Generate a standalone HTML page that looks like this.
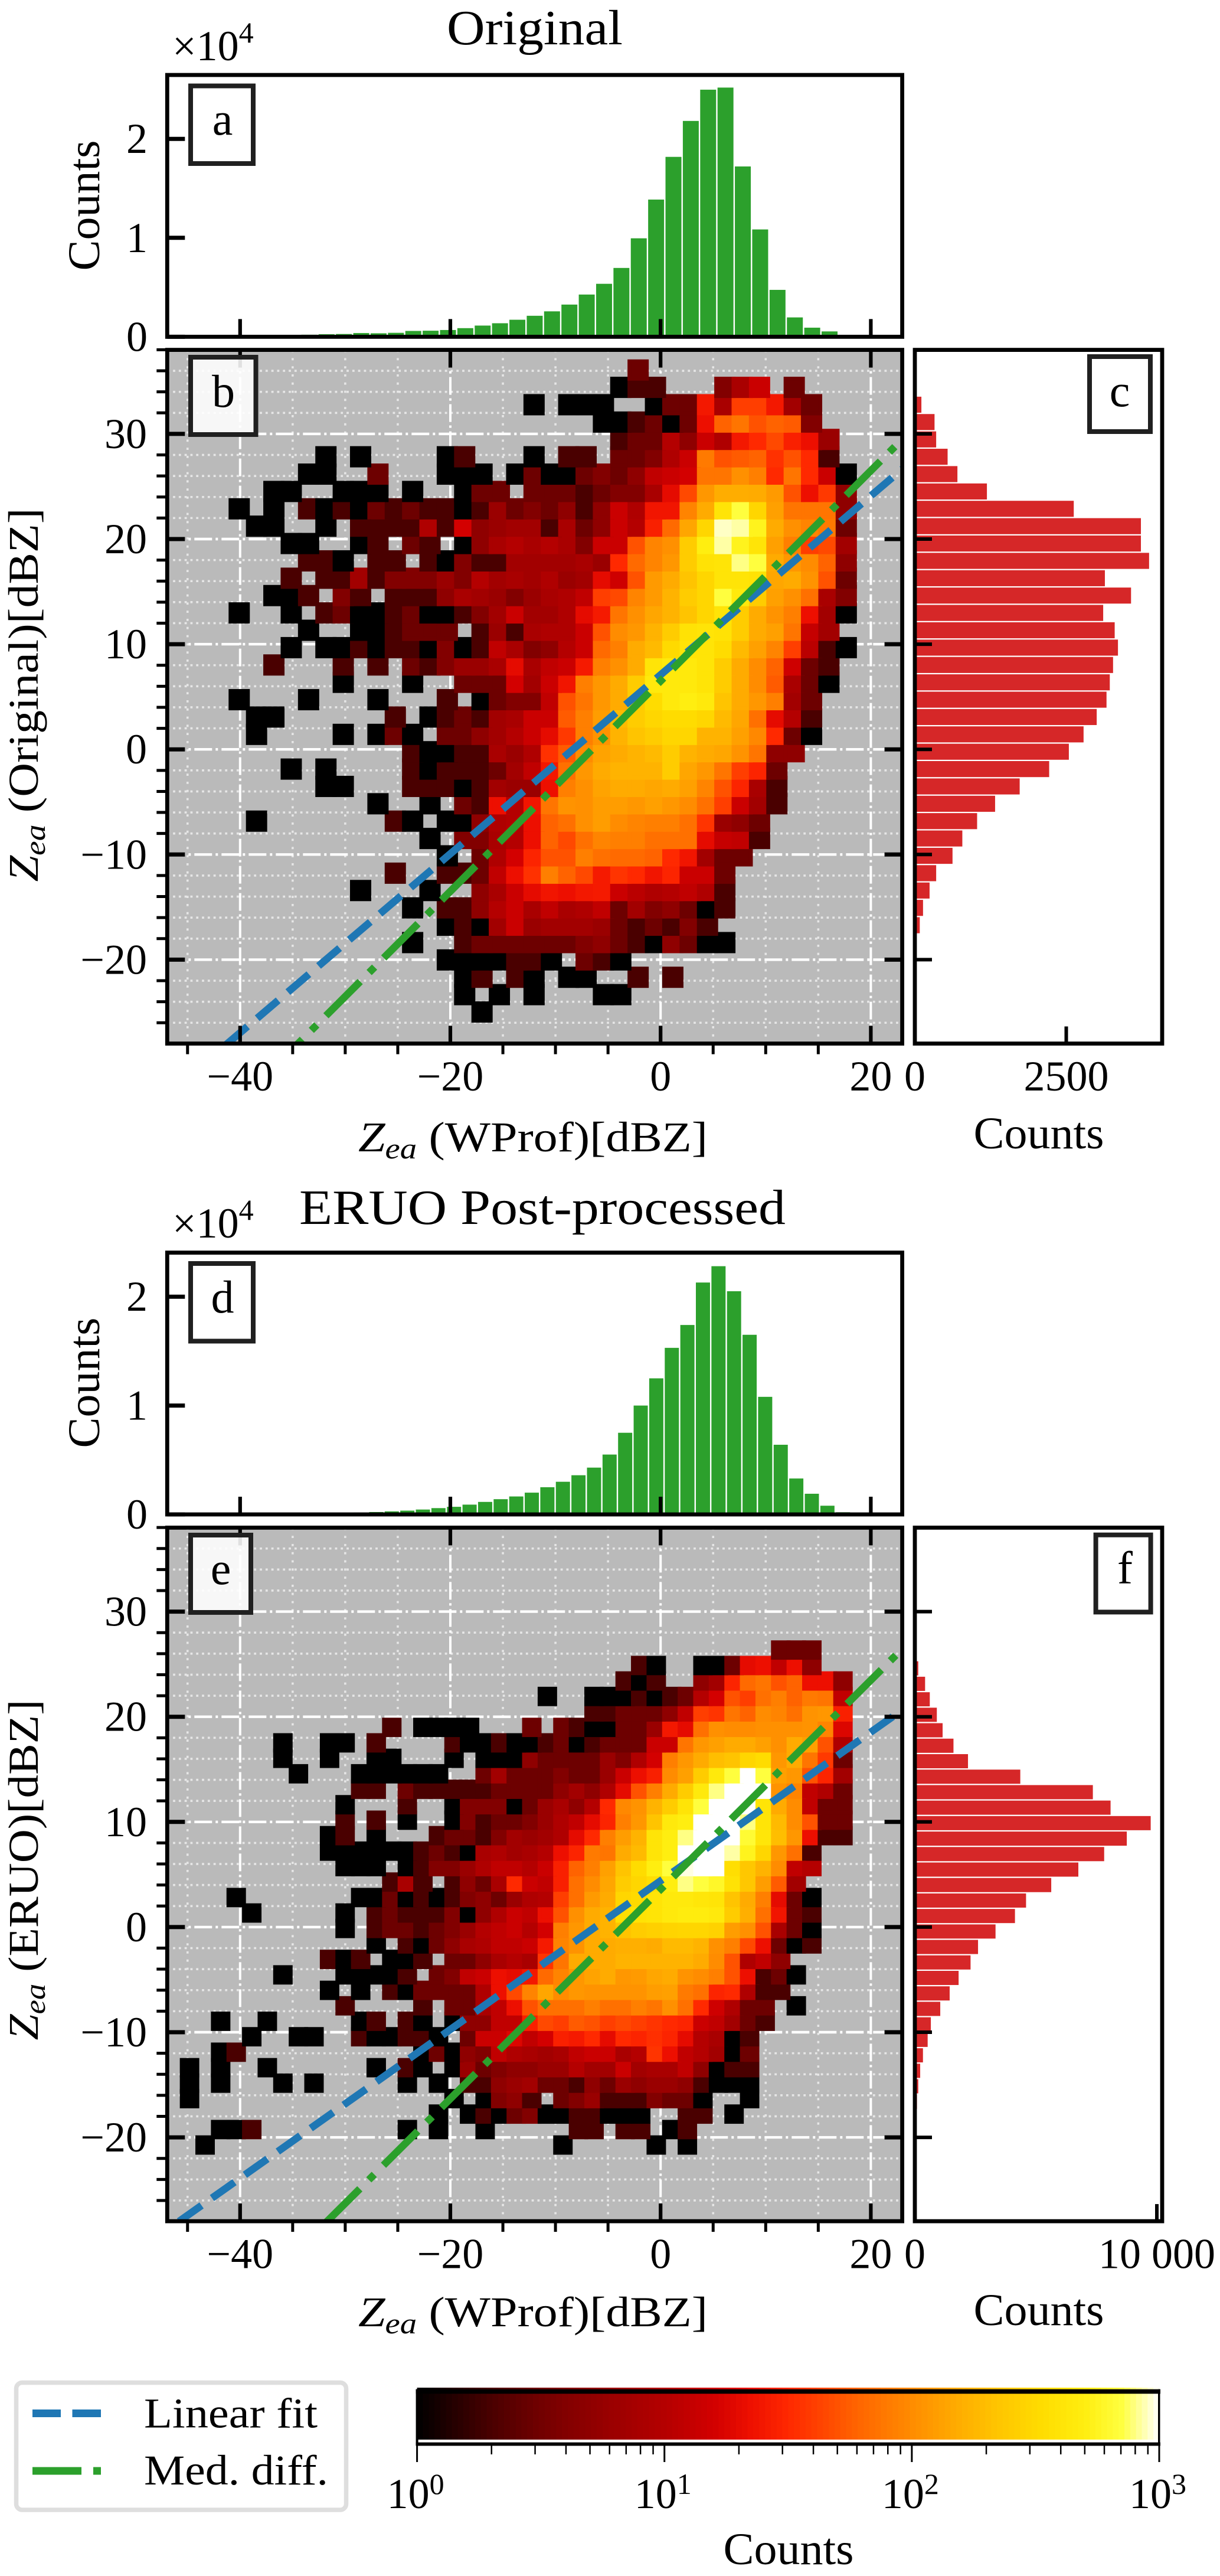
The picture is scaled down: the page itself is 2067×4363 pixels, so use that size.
<!DOCTYPE html>
<html lang="en">
<head>
<meta charset="utf-8">
<title>Reflectivity comparison: Original and ERUO post-processed</title>
<style>
html,body{margin:0;padding:0;background:#fff;}
svg{display:block;}
text{font-family:"Liberation Serif",serif;fill:#000;}
</style>
</head>
<body>
<svg id="fig" xmlns="http://www.w3.org/2000/svg" width="2067" height="4363" viewBox="0 0 2067 4363">
<defs>
<clipPath id="clipB"><rect x="283.3" y="592.6" width="1245.3" height="1174.9"/></clipPath>
<clipPath id="clipE"><rect x="283.3" y="2587.4" width="1245.3" height="1174.7"/></clipPath>
</defs>
<g id="layer"></g>
<g>
<text x="906" y="75" font-size="84" text-anchor="middle" textLength="298" lengthAdjust="spacingAndGlyphs">Original</text>
<text x="919" y="2073" font-size="84" text-anchor="middle" textLength="824" lengthAdjust="spacingAndGlyphs">ERUO Post-processed</text>
<text x="292" y="102" font-size="72">×10<tspan font-size="50" dy="-30">4</tspan></text>
<text x="292" y="2096" font-size="72">×10<tspan font-size="50" dy="-30">4</tspan></text>
</g>
<g>
<text transform="translate(168,348) rotate(-90)" font-size="76" text-anchor="middle" textLength="221" lengthAdjust="spacingAndGlyphs">Counts</text>
<text transform="translate(168,2342) rotate(-90)" font-size="76" text-anchor="middle" textLength="221" lengthAdjust="spacingAndGlyphs">Counts</text>
<text transform="translate(64,1177) rotate(-90)" font-size="72" text-anchor="middle" textLength="633" lengthAdjust="spacingAndGlyphs"><tspan font-style="italic">Z</tspan><tspan font-style="italic" font-size="50" dy="12">ea</tspan><tspan dy="-12"> (Original)[dBZ]</tspan></text>
<text transform="translate(64,3167) rotate(-90)" font-size="72" text-anchor="middle" textLength="577" lengthAdjust="spacingAndGlyphs"><tspan font-style="italic">Z</tspan><tspan font-style="italic" font-size="50" dy="12">ea</tspan><tspan dy="-12"> (ERUO)[dBZ]</tspan></text>
<text x="607" y="1950" font-size="72" textLength="592" lengthAdjust="spacingAndGlyphs"><tspan font-style="italic">Z</tspan><tspan font-style="italic" font-size="50" dy="12">ea</tspan><tspan dy="-12"> (WProf)[dBZ]</tspan></text>
<text x="607" y="3940" font-size="72" textLength="592" lengthAdjust="spacingAndGlyphs"><tspan font-style="italic">Z</tspan><tspan font-style="italic" font-size="50" dy="12">ea</tspan><tspan dy="-12"> (WProf)[dBZ]</tspan></text>
<text x="1760" y="1945" font-size="76" text-anchor="middle" textLength="221" lengthAdjust="spacingAndGlyphs">Counts</text>
<text x="1760" y="3938" font-size="76" text-anchor="middle" textLength="221" lengthAdjust="spacingAndGlyphs">Counts</text>
<text x="1336" y="4343" font-size="76" text-anchor="middle" textLength="221" lengthAdjust="spacingAndGlyphs">Counts</text>
</g>
<g>
<rect x="27.5" y="4035.5" width="559" height="215.5" rx="10" fill="#fff" stroke="#dedede" stroke-width="7.5"/>
<rect x="55" y="4081" width="48" height="13" fill="#1f77b4"/>
<rect x="122.5" y="4081" width="48.5" height="13" fill="#1f77b4"/>
<text x="244" y="4111.5" font-size="72" textLength="294" lengthAdjust="spacingAndGlyphs">Linear fit</text>
<rect x="55" y="4178.5" width="83" height="13" fill="#2ca02c"/>
<rect x="158" y="4178.5" width="13" height="13" fill="#2ca02c"/>
<text x="244" y="4208" font-size="72" textLength="312" lengthAdjust="spacingAndGlyphs">Med. diff.</text>
</g>
</svg>
<script>
// ---- histogram values (counts) ----
const greenCountsA = [20,30,40,60,100,130,180,212,259,283,377,354,401,590,613,684,872,1132,1368,1721,2122,2570,3254,4268,5353,6956,9951,13865,18180,21812,24971,25183,17213,10847,4740,1957,920,542];
const greenCountsD = [20,20,20,20,20,20,30,40,60,90,120,170,220,280,350,450,580,700,900,1150,1400,1650,2000,2500,3000,3600,4300,5500,7500,10000,12500,15300,17400,21300,22800,20500,16500,10800,6400,3300,1900,800,200];
const redCountsC = [108,325,352,541,703,1190,2624,3733,3733,3868,3138,3570,3110,3300,3354,3273,3219,3165,3003,2786,2543,2218,1731,1325,1028,784,622,352,243,135,81];
const redCountsF = [141,423,617,908,1147,1596,2196,4357,7356,8088,9746,8758,7823,6756,5636,4595,4137,3334,2611,2302,1808,1438,1050,661,529,335,220,141,88];

// ---- 2D histogram counts, top row first, left column first ----
const rowsB = [
[0,0,0,0,0,0,0,0,0,0,0,0,0,0,0,0,0,0,0,0,0,0,0,0,0,0,3],
[0,0,0,0,0,0,0,0,0,0,0,0,0,0,0,0,0,0,0,0,0,0,0,0,0,1,2,2,0,0,0,4,8,14,0,3],
[0,0,0,0,0,0,0,0,0,0,0,0,0,0,0,0,0,0,0,0,1,0,1,1,1,0,0,1,3,3,25,8,40,40,25,7,3],
[0,0,0,0,0,0,0,0,0,0,0,0,0,0,0,0,0,0,0,0,0,0,0,0,1,1,2,3,1,3,22,60,75,50,60,55,4],
[0,0,0,0,0,0,0,0,0,0,0,0,0,0,0,0,0,0,0,0,0,0,0,0,0,2,3,3,10,5,14,9,25,32,45,28,22,6],
[0,0,0,0,0,0,0,0,1,0,1,0,0,0,0,1,2,0,0,0,1,0,2,2,0,3,3,4,9,14,80,50,55,60,35,50,32,2],
[0,0,0,0,0,0,0,1,1,0,0,3,0,0,0,1,1,1,0,1,3,1,1,3,4,3,5,12,14,16,75,75,105,85,32,75,32,14,1],
[0,0,0,0,0,1,1,0,0,1,1,1,0,1,0,0,1,3,3,0,3,3,3,2,3,4,4,8,20,45,115,155,155,150,120,50,22,38,5],
[0,0,0,1,0,1,0,2,1,2,1,3,2,3,2,2,1,2,6,3,4,3,5,2,5,14,9,24,24,90,150,400,700,300,130,75,75,75,5],
[0,0,0,0,1,1,0,0,1,0,2,2,2,2,9,2,16,5,6,7,7,2,8,3,5,14,10,28,65,140,300,900,850,550,150,105,90,80,3],
[0,0,0,0,0,0,1,1,0,0,1,2,0,3,2,0,1,5,8,10,8,10,8,4,14,14,50,90,105,250,500,850,550,400,130,85,40,45,7],
[0,0,0,0,0,0,0,2,2,1,0,2,2,0,2,1,4,2,2,7,7,7,7,8,6,32,65,90,115,250,380,400,800,700,150,115,100,60,5],
[0,0,0,0,0,0,2,0,2,2,7,2,4,4,4,6,4,10,7,8,7,9,6,7,20,15,50,120,150,220,300,400,400,380,140,150,110,50,3],
[0,0,0,0,0,1,1,2,0,4,2,0,2,2,2,5,8,7,6,4,6,8,9,12,40,45,90,120,170,250,300,700,450,250,130,105,70,8,4],
[0,0,0,1,0,0,1,0,2,3,1,1,2,3,1,1,2,4,7,14,7,7,9,20,26,75,105,140,170,220,300,400,250,150,110,85,22,7,1],
[0,0,0,0,0,0,0,1,0,0,1,1,2,3,3,3,0,2,6,2,8,9,9,14,50,100,115,170,250,380,400,380,250,150,130,75,13,7],
[0,0,0,0,0,0,1,0,1,1,2,1,2,2,1,4,1,2,12,8,4,5,10,14,65,85,150,190,320,400,400,330,190,130,90,40,11,2,1],
[0,0,0,0,0,2,0,0,0,2,0,2,0,3,2,4,6,6,8,20,8,12,14,26,85,105,150,400,450,450,400,250,150,100,60,15,3,2],
[0,0,0,0,0,0,0,0,0,1,0,0,0,1,0,0,3,3,3,16,7,14,24,85,115,150,250,450,450,450,400,250,150,100,55,8,3,1],
[0,0,0,1,0,0,0,1,0,0,0,1,0,0,0,2,0,1,3,4,4,12,50,75,115,150,250,330,450,500,450,220,150,115,85,7,3],
[0,0,0,0,1,1,0,0,0,0,0,0,2,0,1,2,3,2,7,8,14,14,55,85,125,190,250,300,330,330,300,190,140,70,20,10,2],
[0,0,0,0,1,0,0,0,0,1,0,1,3,1,0,3,3,5,7,10,14,20,38,85,110,170,220,250,300,300,170,170,130,95,32,3,1],
[0,0,0,0,0,0,0,0,0,0,0,0,0,2,1,1,2,2,8,6,9,35,55,100,135,150,170,190,250,170,150,140,110,75,5,5],
[0,0,0,0,0,0,1,0,1,0,0,0,0,2,1,2,2,2,3,7,12,25,70,115,150,170,170,170,250,140,115,75,40,30,3],
[0,0,0,0,0,0,0,0,1,1,0,0,0,2,2,2,1,2,7,6,6,22,85,105,135,150,150,140,150,130,90,50,30,8,2],
[0,0,0,0,0,0,0,0,0,0,0,1,0,0,1,0,3,2,22,10,24,75,110,105,125,125,115,130,115,100,70,40,14,7,2],
[0,0,0,0,1,0,0,0,0,0,0,0,2,1,0,1,1,5,9,10,22,60,70,105,125,100,90,85,85,70,36,6,5,3],
[0,0,0,0,0,0,0,0,0,0,0,0,0,0,1,0,4,4,8,10,22,60,45,70,90,85,85,70,70,70,20,13,12,2],
[0,0,0,0,0,0,0,0,0,0,0,0,0,0,0,1,0,3,9,16,30,50,50,85,70,65,65,60,32,24,7,3,3],
[0,0,0,0,0,0,0,0,0,0,0,0,2,0,0,2,2,3,12,22,35,85,60,45,26,36,32,24,30,14,14,3],
[0,0,0,0,0,0,0,0,0,0,1,0,0,0,1,0,0,5,8,14,20,24,22,25,26,14,11,9,10,12,9,2],
[0,0,0,0,0,0,0,0,0,0,0,0,0,1,0,2,2,5,10,14,8,12,8,9,12,3,7,4,5,3,1,2],
[0,0,0,0,0,0,0,0,0,0,0,0,0,0,0,1,2,1,7,14,6,7,7,7,6,3,2,3,2,4,2],
[0,0,0,0,0,0,0,0,0,0,0,0,0,1,0,0,2,3,3,3,3,3,3,4,5,3,2,1,5,3,1,1],
[0,0,0,0,0,0,0,0,0,0,0,0,0,0,0,1,1,1,1,2,2,1,0,3,2,1],
[0,0,0,0,0,0,0,0,0,0,0,0,0,0,0,0,1,2,0,2,1,0,1,1,0,0,2,0,2],
[0,0,0,0,0,0,0,0,0,0,0,0,0,0,0,0,1,0,1,0,1,0,0,0,1,1],
[0,0,0,0,0,0,0,0,0,0,0,0,0,0,0,0,0,1]
];
const rowsE = [
[0,0,0,0,0,0,0,0,0,0,0,0,0,0,0,0,0,0,0,0,0,0,0,0,0,0,0,0,0,0,0,0,0,0,0,0,0,0,3,3,3],
[0,0,0,0,0,0,0,0,0,0,0,0,0,0,0,0,0,0,0,0,0,0,0,0,0,0,0,0,0,2,1,0,0,1,1,3,20,22,12,22,5],
[0,0,0,0,0,0,0,0,0,0,0,0,0,0,0,0,0,0,0,0,0,0,0,0,0,0,0,0,2,1,2,0,0,5,7,30,65,75,50,60,22,22,5],
[0,0,0,0,0,0,0,0,0,0,0,0,0,0,0,0,0,0,0,0,0,0,0,1,0,0,1,1,1,2,1,2,3,10,16,50,40,70,85,60,80,75,12],
[0,0,0,0,0,0,0,0,0,0,0,0,0,0,0,0,0,0,0,0,0,0,0,0,0,0,2,2,3,3,3,5,12,40,36,75,60,100,90,70,110,115,28],
[0,0,0,0,0,0,0,0,0,0,0,0,0,2,0,1,1,1,1,0,0,0,3,0,3,2,1,1,3,3,6,25,20,70,105,100,100,105,105,105,110,90,18],
[0,0,0,0,0,0,1,0,0,1,1,0,2,0,0,0,0,2,1,1,2,1,1,2,3,1,2,3,3,3,14,14,75,115,130,150,150,130,105,150,130,50,9],
[0,0,0,0,0,0,1,0,0,1,0,0,1,1,0,0,0,1,0,1,1,1,5,3,3,3,3,6,4,9,16,85,115,150,200,220,300,330,115,150,75,38,3],
[0,0,0,0,0,0,0,1,0,0,0,1,1,1,1,1,1,0,0,3,7,3,3,3,4,3,3,6,14,22,28,100,130,250,450,700,1000,700,130,115,50,30,7],
[0,0,0,0,0,0,0,0,0,0,0,2,2,0,3,2,2,2,2,2,3,3,3,3,5,7,5,9,20,50,85,150,250,450,800,1000,1000,1000,110,90,12,9,3],
[0,0,0,0,0,0,0,0,0,0,1,0,0,0,2,0,0,1,4,4,4,1,3,6,8,5,10,32,95,110,170,250,400,700,1000,1000,1000,400,150,100,12,3,3],
[0,0,0,0,0,0,0,0,0,0,2,0,2,0,1,0,0,1,4,2,3,3,4,6,9,12,20,30,85,115,220,450,500,1000,1000,1000,800,400,190,100,50,3,3],
[0,0,0,0,0,0,0,0,0,1,2,0,1,0,0,0,2,3,3,2,4,7,6,7,9,20,32,85,125,170,400,500,800,1000,1000,1000,650,420,200,115,22,2,2],
[0,0,0,0,0,0,0,0,0,1,1,1,1,1,1,2,3,2,1,8,9,7,8,10,22,30,80,75,150,190,400,500,1000,1000,1000,850,550,300,115,70,2],
[0,0,0,0,0,0,0,0,0,0,1,1,1,0,1,2,4,4,6,9,12,12,10,14,28,60,85,130,220,330,500,700,950,1000,1000,350,230,170,100,12,10],
[0,0,0,0,0,0,0,0,0,0,0,0,0,2,8,2,0,2,5,3,8,32,14,12,28,70,100,140,250,300,350,500,800,700,600,380,230,125,55,7],
[0,0,0,1,0,0,0,0,0,0,0,1,1,3,1,2,1,2,4,5,3,6,9,10,40,70,120,150,300,320,400,450,450,420,400,220,150,85,20,3,1],
[0,0,0,0,1,0,0,0,0,0,1,0,2,3,2,2,2,4,1,5,9,14,12,22,50,105,150,170,350,380,400,450,480,480,450,250,160,70,24,3,2],
[0,0,0,0,0,0,0,0,0,0,1,0,2,3,3,2,3,4,6,10,12,14,10,16,85,115,150,170,220,250,270,290,300,300,280,125,105,50,8,3,1],
[0,0,0,0,0,0,0,0,0,0,0,0,1,0,2,1,3,5,8,9,12,12,14,26,90,110,150,150,160,160,150,190,190,170,105,85,45,22,3,1,2],
[0,0,0,0,0,0,0,0,0,2,1,2,0,1,1,2,0,3,3,5,8,10,8,36,75,150,150,150,170,170,170,170,170,150,100,50,9,12,5],
[0,0,0,0,0,0,1,0,0,0,1,1,1,1,2,0,3,4,12,14,22,20,25,65,90,115,135,150,115,120,140,150,110,100,85,50,22,2,3,1],
[0,0,0,0,0,0,0,0,0,1,0,1,0,2,1,3,3,3,3,9,22,45,90,140,100,115,110,110,110,110,125,130,80,70,30,32,9,2,2],
[0,0,0,0,0,0,0,0,0,0,2,0,0,0,0,2,0,3,3,8,12,22,50,70,70,70,85,70,70,85,75,105,70,32,15,9,3,3,0,1],
[0,0,1,0,0,1,0,0,0,0,0,1,2,0,2,1,0,1,5,5,12,12,28,45,40,55,50,40,45,40,36,32,30,14,12,7,3,2],
[0,0,0,0,1,0,0,1,1,0,0,2,1,1,2,2,1,0,3,14,14,18,12,16,28,26,32,20,32,30,34,30,20,10,8,1,2],
[0,0,1,2,0,0,0,0,0,0,0,0,0,0,0,1,3,1,5,4,12,9,8,7,8,12,14,14,8,10,36,22,12,10,7,1,3],
[1,0,1,0,0,1,0,0,0,0,0,0,1,0,2,1,0,1,6,3,4,5,5,6,6,10,7,7,14,7,8,8,12,5,1,2,2],
[1,0,1,0,0,0,1,0,1,0,0,0,0,0,1,0,1,0,2,2,5,6,7,3,3,2,5,3,6,5,6,6,5,2,1,1,1],
[1,0,0,0,0,0,0,0,0,0,0,0,0,0,0,0,0,1,0,1,4,5,2,0,3,4,6,2,2,2,4,3,3,1,0,0,1],
[0,0,0,0,0,0,0,0,0,0,0,0,0,0,0,0,1,0,1,2,1,3,4,1,1,2,2,1,1,1,0,0,2,2,0,1],
[0,0,1,1,2,0,0,0,0,0,0,0,0,0,1,0,1,0,0,1,0,0,0,0,0,2,2,0,2,2,0,1,2],
[0,1,0,0,0,0,0,0,0,0,0,0,0,0,0,0,0,0,0,0,0,0,0,0,1,0,0,0,0,0,1,0,1]
];

// ---- binning of each histogram (data units) ----
const binsB = {xStart:-45.86, xStep:1.65, yStart:36.9, yStep:1.65};
const binsE = {xStart:-45.55, xStep:1.48, yStart:27.08, yStep:1.471};
const binsA = {start:-45.8, step:1.65};
const binsD = {start:-45.55, step:1.48};
const binsC = {start:33.6, step:1.65};
const binsF = {start:25.34, step:1.472};

// ---- fitted lines: y = slope * x + intercept ----
const fitBlueB = [0.851, 7.09];
const fitGreenB = [1.0, 6.5];
const fitBlueE = [0.707, 4.4];
const fitGreenE = [0.995, 3.58];

// ---- ticks ----
const xMajor = [-40,-20,0,20];
const xMinor = [-45,-35,-30,-25,-15,-10,-5,5,10,15];
const yMajor = [-20,-10,0,10,20,30];
const yMinor = [-26,-24,-22,-18,-16,-14,-12,-8,-6,-4,-2,2,4,6,8,12,14,16,18,22,24,26,28,32,34,36,38];
const histTicks = [0,10000,20000];
const histTickLabels = ['0','1','2'];
const cTicks = [0,2500];
const fTicks = [0,10000];
const fTickLabels = ['0','10 000'];
const cbDecades = [1,10,100,1000];
const cbExponents = ['0','1','2','3'];
const cbMinorMultipliers = [2,3,4,5,6,7,8,9];

// ---- colormap ----
const cmapPos = [0,.1,.16,.2,.26,.333,.4,.45,.5,.55,.6,.667,.72,.78,.84,.9,.95,1];
const cmapRGB = [[0,0,0],[74,0,0],[110,0,0],[130,0,0],[154,0,0],[180,0,0],[210,0,0],[238,16,0],[255,40,0],[255,72,0],[255,104,0],[255,140,0],[255,168,0],[255,196,0],[255,220,0],[255,238,16],[255,255,64],[255,255,255]];
function cmap(t){
  t=Math.max(0,Math.min(1,t));
  let i=0; while(i<cmapPos.length-2 && t>cmapPos[i+1]) i++;
  const f=(t-cmapPos[i])/(cmapPos[i+1]-cmapPos[i]);
  const c=cmapRGB[i].map((v,k)=>Math.round(v+(cmapRGB[i+1][k]-v)*f));
  return 'rgb('+c.join(',')+')';
}

// ---- scales ----
const PPU = 17.81;
const sx = v => 1119.2 + PPU*v;
const syB = v => 1269.2 - PPU*v;
const syE = v => 3263.9 - PPU*v;
const syA = v => 570.4 - v*0.01676;
const syD = v => 2565 - v*0.01844;
const sxC = v => 1550 + v*0.1026;
const sxF = v => 1550 + v*0.041;
const cbX = v => 706.6 + Math.log10(v)/3*(1964-706.6);

const root = document.getElementById('layer');
const NS = 'http://www.w3.org/2000/svg';
function mk(tag,parent,geom){
  const e=document.createElementNS(NS,tag);
  for(const k in geom) e.setAttribute(k,geom[k]);
  parent.appendChild(e);
  return e;
}
function fmt(v){return String(v).replace('-','\u2212');}
function tickLine(parent,x1,y1,x2,y2,w){
  const l=mk('line',parent,{x1,y1,x2,y2,stroke:'#000','stroke-width':w});
  
  
  return l;
}
function tickText(parent,x,y,anchor,size,str){
  const t=mk('text',parent,{x,y,'text-anchor':anchor,'font-size':size});
  
  
  t.textContent=str;
  return t;
}
function spines(parent,l,t,r,b){
  const s=mk('rect',parent,{x:l,y:t,width:r-l,height:b-t,fill:'none',stroke:'#000','stroke-width':6.8,'stroke-linejoin':'miter'});
  
  
}
function labelBox(parent,x,y,w,h,letter,cx,base,fill){
  const r=mk('rect',parent,{x:x+4,y:y+4,width:w-8,height:h-8,fill:fill,stroke:'#202020','stroke-width':8});
  
  
  const t=mk('text',parent,{x:cx,y:base,'text-anchor':'middle','font-size':78});
  
  
  t.textContent=letter;
}

// ---- heatmap panel ----
function heatPanel(name,sy,top,bottom,rows,bins,fits,clipId,dashOffsets){
  const g=mk('g',root,{});
  
  
  const L=283.3,R=1528.6;
  const bg=mk('rect',g,{x:L,y:top,width:R-L,height:bottom-top,fill:'#bababa'});
  
  
  xMinor.forEach(v=>{
    const l=mk('line',g,{x1:sx(v),x2:sx(v),y1:top,y2:bottom,stroke:'#e6e6e6','stroke-width':3.6,'stroke-dasharray':'3.8 10'});
    
    
  });
  yMinor.forEach(v=>{
    const l=mk('line',g,{x1:L,x2:R,y1:sy(v),y2:sy(v),stroke:'#e6e6e6','stroke-width':3.6,'stroke-dasharray':'3.8 6'});
    
    
  });
  xMajor.forEach(v=>{
    const l=mk('line',g,{x1:sx(v),x2:sx(v),y1:top,y2:bottom,stroke:'#fff','stroke-width':4,'stroke-dasharray':'30 6 4 6'});
    
    
  });
  yMajor.forEach(v=>{
    const l=mk('line',g,{x1:L,x2:R,y1:sy(v),y2:sy(v),stroke:'#fff','stroke-width':4.4,'stroke-dasharray':'30 6 4 6'});
    
    
  });
  // cells: bottom row painted first, stroked in their own colour
  const w=PPU*bins.xStep, h=PPU*bins.yStep;
  for(let j=rows.length-1;j>=0;j--){
    const row=rows[j];
    for(let i=0;i<row.length;i++){
      if(!row[i]) continue;
      const col=cmap(Math.log10(row[i])/3);
      const c=mk('rect',g,{x:sx(bins.xStart+i*bins.xStep),y:sy(bins.yStart-j*bins.yStep),width:w,height:h,fill:col,stroke:col,'stroke-width':6.6});
      
      
    }
  }
  // fits
  const lines=mk('g',g,{'clip-path':'url(#'+clipId+')'});
  const x0=-47,x1=23;
  const blue=mk('line',lines,{x1:sx(x0),y1:sy(fits[0][0]*x0+fits[0][1]),x2:sx(x1),y2:sy(fits[0][0]*x1+fits[0][1]),stroke:'#1f77b4','stroke-width':12.5,'stroke-dasharray':'46.7 21.6','stroke-dashoffset':dashOffsets[0]});
  
  
  const green=mk('line',lines,{x1:sx(x0),y1:sy(fits[1][0]*x0+fits[1][1]),x2:sx(x1),y2:sy(fits[1][0]*x1+fits[1][1]),stroke:'#2ca02c','stroke-width':12.5,'stroke-dasharray':'82 21.5 13 22','stroke-dashoffset':dashOffsets[1]});
  
  
  // ticks
  xMajor.forEach(v=>{
    tickLine(g,sx(v),top,sx(v),top+30,6.2);
    tickLine(g,sx(v),bottom,sx(v),bottom-30,6.2);
    tickText(g,sx(v),bottom+79.5,'middle',72,fmt(v));
  });
  xMinor.forEach(v=>{ tickLine(g,sx(v),bottom,sx(v),bottom+18,5); });
  yMajor.forEach(v=>{
    tickLine(g,L,sy(v),L+30,sy(v),7);
    tickLine(g,R,sy(v),R-30,sy(v),7);
    tickText(g,249,sy(v)+24,'end',72,fmt(v));
  });
  yMinor.forEach(v=>{ tickLine(g,L,sy(v),L-18,sy(v),5); });
  return g;
}

// ---- top histogram ----
function topHist(name,sy,top,bottom,vals,bins){
  const g=mk('g',root,{});
  
  
  const L=283.3,R=1528.6;
  const stepPx=PPU*bins.step;
  vals.forEach((v,i)=>{
    const y=sy(v);
    const b=mk('rect',g,{x:sx(bins.start+i*bins.step)+1.2,y:y,width:stepPx-2.4,height:bottom-y,fill:'#2ca02c'});
    
    
  });
  xMajor.forEach(v=>{ tickLine(g,sx(v),bottom,sx(v),bottom-30,6.2); });
  histTicks.forEach((v,i)=>{
    tickLine(g,L,sy(v),L+30,sy(v),7);
    tickText(g,250,sy(v)+24,'end',72,histTickLabels[i]);
  });
  spines(g,L,top,R,bottom);
  return g;
}

// ---- side histogram ----
function sideHist(name,sx2,sy,top,bottom,vals,bins,ticks,tickLabels){
  const g=mk('g',root,{});
  
  
  const L=1550,R=1969;
  const stepPx=PPU*bins.step;
  vals.forEach((v,i)=>{
    const y=sy(bins.start-i*bins.step);
    const b=mk('rect',g,{x:L,y:y+1.1,width:sx2(v)-L,height:stepPx-2.2,fill:'#d62728'});
    
    
  });
  yMajor.forEach(v=>{ tickLine(g,L,sy(v),L+29,sy(v),6); });
  ticks.forEach((v,i)=>{
    tickLine(g,sx2(v),bottom,sx2(v),bottom-29,6);
    tickText(g,sx2(v),bottom+79.5,'middle',72,tickLabels[i]);
  });
  spines(g,L,top,R,bottom);
  return g;
}

// build panels
const panelA=topHist('panel-a-histogram',syA,127,570.4,greenCountsA,binsA);
labelBox(panelA,319,141.5,114,139.5,'a',377,228,'#fff');

const panelB=heatPanel('panel-b-heatmap',syB,592.6,1767.5,rowsB,binsB,[fitBlueB,fitGreenB],'clipB',[3.2,33.5]);
labelBox(panelB,319,601,118.5,139,'b',378.5,689,'rgba(255,255,255,.88)');
spines(panelB,283.3,592.6,1528.6,1767.5);

const panelC=sideHist('panel-c-histogram',sxC,syB,592.6,1767.5,redCountsC,binsC,cTicks,cTicks.map(String));
labelBox(panelC,1842,600,111,135,'c',1897,688,'#fff');

const panelD=topHist('panel-d-histogram',syD,2121.6,2565,greenCountsD,binsD);
labelBox(panelD,319,2136,114,139.5,'d',377,2223,'#fff');

const panelE=heatPanel('panel-e-heatmap',syE,2587.4,3762.1,rowsE,binsE,[fitBlueE,fitGreenE],'clipE',[42.3,35.5]);
labelBox(panelE,319,2596,110,139,'e',374,2683,'rgba(255,255,255,.88)');
spines(panelE,283.3,2587.4,1528.6,3762.1);

const panelF=sideHist('panel-f-histogram',sxF,syE,2587.4,3762.1,redCountsF,binsF,fTicks,fTickLabels);
labelBox(panelF,1852.6,2595.7,101,138.7,'f',1906,2682,'#fff');

// ---- colorbar ----
const cbG=mk('g',root,{});


const cbSteps=128, cbL=706.6, cbR=1964;
for(let i=0;i<cbSteps;i++){
  const x=cbL+(cbR-cbL)*i/cbSteps;
  const r=mk('rect',cbG,{x:x,y:4044,width:(cbR-cbL)/cbSteps+0.6,height:88,fill:cmap((i+.5)/cbSteps)});
  
  
}
const cbTop=mk('rect',cbG,{x:cbL-2,y:4046.7,width:cbR-cbL+4,height:7.6,fill:'#000'});


const cbBot=mk('rect',cbG,{x:cbL-2,y:4136.7,width:cbR-cbL+4,height:5.8,fill:'#000'});


const cbLeft=mk('rect',cbG,{x:cbL-2,y:4046.7,width:4,height:95,fill:'#000'});


const cbRight=mk('rect',cbG,{x:cbR-2,y:4046.7,width:3.5,height:95,fill:'#000'});


cbDecades.forEach((d,i)=>{
  tickLine(cbG,cbX(d),4140,cbX(d),4170,3);
  const t=mk('text',cbG,{x:cbX(d)-51,y:4248,'font-size':72});
  
  
  t.textContent='10';
  const s=mk('tspan',t,{dy:-24,'font-size':50});
  s.textContent=cbExponents[i];
  if(d<1000){
    cbMinorMultipliers.forEach(m=>{ tickLine(cbG,cbX(d*m),4140,cbX(d*m),4157,2.5); });
  }
});
</script>
</body>
</html>
